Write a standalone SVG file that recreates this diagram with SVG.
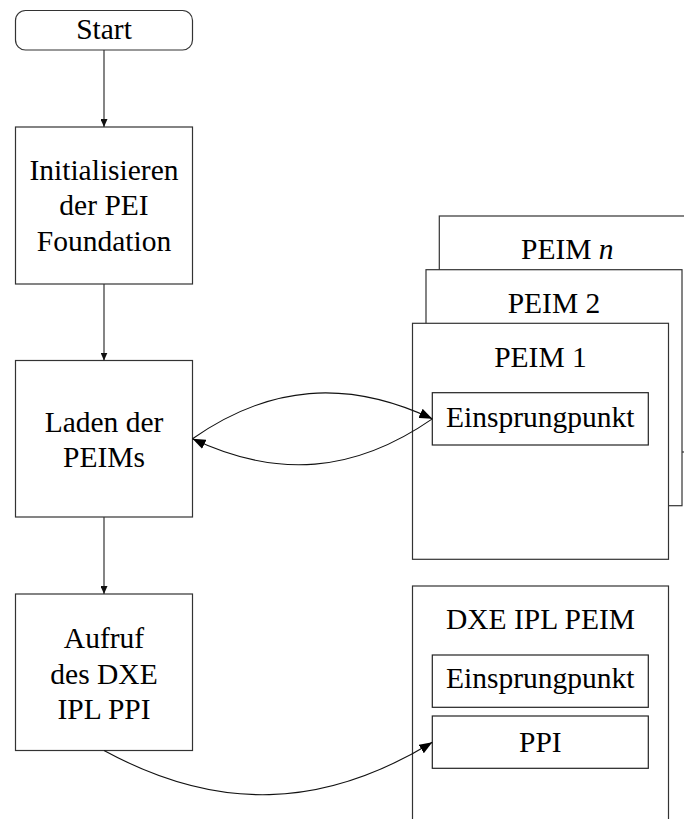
<svg xmlns="http://www.w3.org/2000/svg" width="684" height="819" viewBox="0 0 684 819">
  <style>
    .box { fill: #ffffff; stroke: #333333; stroke-width: 1.2; }
    .inner { fill: #ffffff; stroke: #222222; stroke-width: 1.2; }
    .lbl { font-family: "Liberation Serif", "Times New Roman", serif; font-size: 29.5px; fill: #000000; text-anchor: middle; }
    .flow { fill: none; stroke: #333333; stroke-width: 1.2; }
    .bend { fill: none; stroke: #111111; stroke-width: 1.1; }
  </style>
  <defs>
    <marker id="tipSmall" markerUnits="userSpaceOnUse" markerWidth="8" markerHeight="7" refX="8" refY="3.5" orient="auto">
      <path d="M0,0 L8,3.5 L0,7 z" fill="#111111"/>
    </marker>
    <marker id="tipLarge" markerUnits="userSpaceOnUse" markerWidth="13" markerHeight="10" refX="13" refY="5" orient="auto">
      <path d="M0,0 L13,5 L0,10 z" fill="#000000"/>
    </marker>
  </defs>

  <rect width="684" height="819" fill="#ffffff"/>

  <!-- main flow, left column -->
  <g id="start">
    <rect class="box" x="15.5" y="10.5" width="177" height="39.5" rx="10" ry="10"/>
    <text class="lbl" x="104" y="39.3">Start</text>
  </g>

  <g id="init">
    <rect class="box" x="15.5" y="127" width="177" height="157"/>
    <text class="lbl" x="104" y="180">Initialisieren</text>
    <text class="lbl" x="104" y="215.3">der PEI</text>
    <text class="lbl" x="104" y="250.6">Foundation</text>
  </g>

  <g id="load">
    <rect class="box" x="15.5" y="360.5" width="177" height="156.5"/>
    <text class="lbl" x="104" y="431.7">Laden der</text>
    <text class="lbl" x="104" y="467">PEIMs</text>
  </g>

  <g id="call">
    <rect class="box" x="15.5" y="594" width="177" height="156.5"/>
    <text class="lbl" x="104" y="648.3">Aufruf</text>
    <text class="lbl" x="104" y="683.5">des DXE</text>
    <text class="lbl" x="104" y="718.5">IPL PPI</text>
  </g>

  <!-- stacked module cards, drawn back to front -->
  <g id="peim-n">
    <rect class="box" x="439.3" y="216" width="256" height="236"/>
    <text class="lbl" x="567.3" y="259.3">PEIM <tspan font-style="italic">n</tspan></text>
  </g>

  <g id="peim-2">
    <rect class="box" x="426" y="269.7" width="256" height="236"/>
    <text class="lbl" x="554" y="313">PEIM 2</text>
  </g>

  <g id="peim-1">
    <rect class="box" x="412.5" y="323.3" width="256" height="236"/>
    <text class="lbl" x="540.5" y="366.7">PEIM 1</text>
    <g id="peim-1-entry">
      <rect class="inner" x="432.3" y="392.7" width="216" height="52.3"/>
      <text class="lbl" x="540.3" y="426.5">Einsprungpunkt</text>
    </g>
  </g>

  <g id="dxe-ipl">
    <rect class="box" x="412.5" y="586" width="256" height="236"/>
    <text class="lbl" x="540.5" y="629.3">DXE IPL PEIM</text>
    <g id="dxe-ipl-entry">
      <rect class="inner" x="432.3" y="655" width="216" height="52.3"/>
      <text class="lbl" x="540.3" y="688.3">Einsprungpunkt</text>
    </g>
    <g id="dxe-ipl-ppi">
      <rect class="inner" x="432.3" y="716" width="216" height="52.3"/>
      <text class="lbl" x="540.3" y="751.7">PPI</text>
    </g>
  </g>

  <!-- connectors -->
  <g id="connectors">
    <line class="flow" x1="104" y1="50" x2="104" y2="127" marker-end="url(#tipSmall)"/>
    <line class="flow" x1="104" y1="284" x2="104" y2="360.5" marker-end="url(#tipSmall)"/>
    <line class="flow" x1="104" y1="517" x2="104" y2="594" marker-end="url(#tipSmall)"/>
    <path class="bend" d="M192.5,438.75 C269.5,385 346.7,378.7 432.3,418.85" marker-end="url(#tipLarge)"/>
    <path class="bend" d="M432.3,418.85 C354.5,472.7 277.3,479 192.5,438.75" marker-end="url(#tipLarge)"/>
    <path class="bend" d="M104,750.5 C217,812.1 322.6,809.4 432.3,742.2" marker-end="url(#tipLarge)"/>
  </g>
</svg>
